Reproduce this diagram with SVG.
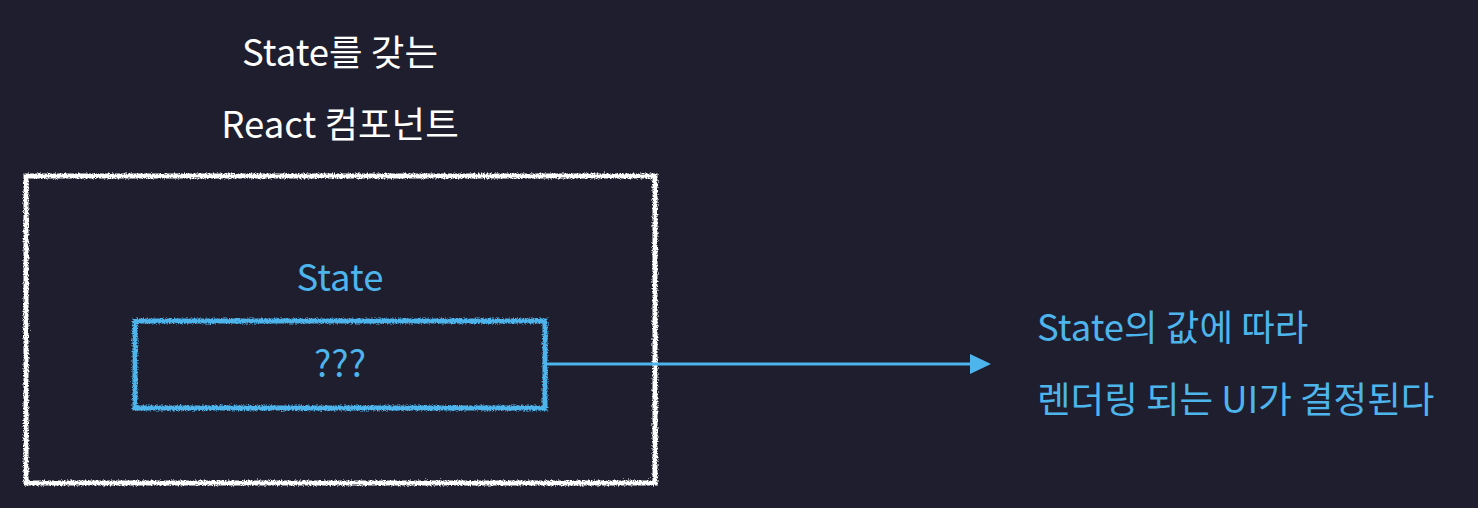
<svg xmlns="http://www.w3.org/2000/svg" width="1478" height="508" viewBox="0 0 1478 508">
<style>
.t{font-family:"Noto Sans CJK KR","Noto Sans",sans-serif;font-size:36.5px;}
.w{fill:#ffffff;}
.b{fill:#4db4ec;}
.box{fill:none;stroke-width:5;filter:url(#rough);}
</style>
<defs>
<filter id="rough" x="-5%" y="-5%" width="110%" height="110%">
<feTurbulence type="fractalNoise" baseFrequency="0.7" numOctaves="2" seed="3" result="n"/>
<feDisplacementMap in="SourceGraphic" in2="n" scale="4.5" xChannelSelector="R" yChannelSelector="G"/>
</filter>
</defs>
<rect width="1478" height="508" fill="#1e1e2e"/>
<g id="title">
<text class="t w" x="340" y="66" text-anchor="middle">State를 갖는</text>
<text class="t w" x="340" y="138" text-anchor="middle">React 컴포넌트</text>
</g>
<g id="component">
<rect class="box" x="26" y="176" width="629" height="307" stroke="#ffffff"/>
</g>
<g id="state">
<text class="t b" x="340" y="291" text-anchor="middle">State</text>
<rect class="box" x="135" y="321" width="410" height="87" stroke="#4db4ec"/>
<text class="t b" x="340" y="377" text-anchor="middle">???</text>
</g>
<g id="connectors">
<line x1="546" y1="364" x2="972" y2="364" stroke="#4db4ec" stroke-width="3"/>
<path d="M970,354 L991,364 L970,374 Z" fill="#4db4ec"/>
</g>
<g id="result">
<text class="t b" x="1037" y="341">State의 값에 따라</text>
<text class="t b" x="1037" y="413">렌더링 되는 UI가 결정된다</text>
</g>
</svg>
